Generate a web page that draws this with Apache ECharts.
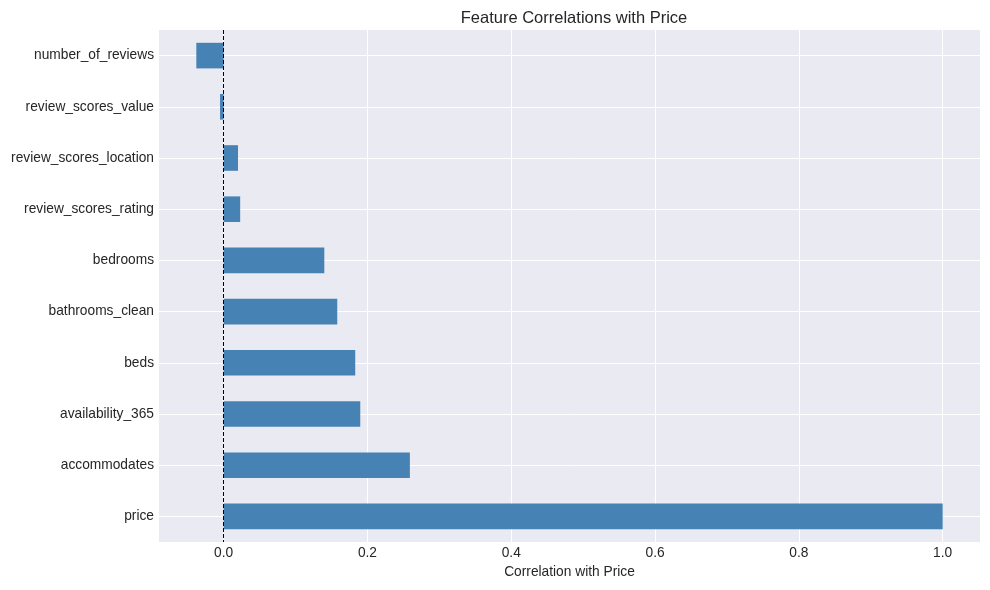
<!DOCTYPE html>
<html>
<head>
<meta charset="utf-8">
<script src="https://cdn.jsdelivr.net/npm/echarts@6/dist/echarts.min.js"></script>
<style>
    html, body { margin: 0; padding: 0; background: #fff; }
    #chart { width: 990px; height: 590px; }
</style>
</head>
<body>
<div id="chart"></div>
<script>
// top to bottom, as in the picture
var features = ['number_of_reviews', 'review_scores_value', 'review_scores_location',
    'review_scores_rating', 'bedrooms', 'bathrooms_clean', 'beds',
    'availability_365', 'accommodates', 'price'];
var correlations = [-0.038, -0.005, 0.020, 0.023, 0.140, 0.158, 0.183, 0.190, 0.259, 1.0];
var xTicks = [0.0, 0.2, 0.4, 0.6, 0.8, 1.0];

var FONT = '"Liberation Sans", Arial, sans-serif';
var TEXT = '#262626';

// axis padding like matplotlib (5% of data span each side)
var dmin = Math.min.apply(null, correlations.concat([0]));
var dmax = Math.max.apply(null, correlations);
var pad = (dmax - dmin) * 0.05;

var myChart = echarts.init(document.getElementById('chart'));
var option = {
    animation: false,
    backgroundColor: '#ffffff',
    title: {
        text: 'Feature Correlations with Price',
        left: 569,
        textAlign: 'center',
        top: 5,
        textStyle: { fontFamily: FONT, fontSize: 16.5, fontWeight: 'normal', color: TEXT }
    },
    grid: {
        left: 159, right: 10, top: 30, bottom: 48,
        show: true, backgroundColor: '#EAEAF2', borderWidth: 0
    },
    xAxis: {
        type: 'value',
        min: dmin - pad,
        max: dmax + pad,
        name: 'Correlation with Price',
        nameLocation: 'middle',
        nameGap: 23,
        nameTextStyle: { fontFamily: FONT, fontSize: 13.75, color: TEXT },
        axisLine: { show: false },
        axisTick: { show: false, customValues: xTicks },
        axisLabel: {
            customValues: xTicks,
            margin: 4,
            fontFamily: FONT, fontSize: 13.75, color: TEXT,
            formatter: function (v) { return v.toFixed(1); }
        },
        splitLine: { show: true, lineStyle: { color: '#ffffff', width: 1 } }
    },
    yAxis: {
        type: 'category',
        data: features,
        inverse: true,
        axisLine: { show: false },
        axisTick: { show: false },
        axisLabel: { margin: 5, fontFamily: FONT, fontSize: 13.75, color: TEXT },
        splitLine: { show: false }
    },
    series: [
        {
            // horizontal grid lines at category centres, kept behind the bars
            type: 'line',
            data: [],
            z: 1,
            silent: true,
            markLine: {
                z: 1,
                silent: true,
                symbol: 'none',
                label: { show: false },
                lineStyle: { color: '#ffffff', width: 1, type: 'solid' },
                data: features.map(function (f) { return { yAxis: f }; })
            }
        },
        {
            type: 'bar',
            data: correlations,
            barWidth: '50%',
            z: 2,
            itemStyle: { color: '#4682B4' },
            markLine: {
                silent: true,
                symbol: 'none',
                label: { show: false },
                lineStyle: { color: '#000000', width: 1, type: [4, 2] },
                data: [{ xAxis: 0 }]
            }
        }
    ]
};
myChart.setOption(option);
</script>
</body>
</html>
